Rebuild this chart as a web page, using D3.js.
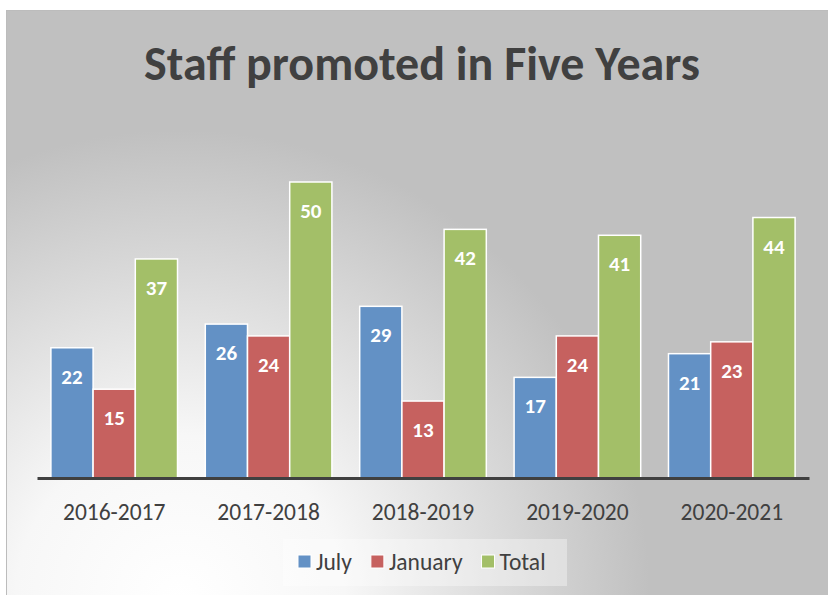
<!DOCTYPE html>
<html>
<head>
<meta charset="utf-8">
<script src="https://cdn.jsdelivr.net/npm/d3@7"></script>
<style>
  body { margin: 0; background: #ffffff; }
  svg { display: block; font-family: Carlito, Lato, "Open Sans", sans-serif; }
</style>
</head>
<body>
<svg id="chart" width="828" height="595"></svg>
<script>
const years = ["2016-2017", "2017-2018", "2018-2019", "2019-2020", "2020-2021"];
const seriesNames = ["July", "January", "Total"];
const july = [22, 26, 29, 17, 21];
const january = [15, 24, 13, 24, 23];
const total = [37, 50, 42, 41, 44];
const colors = ["#6391c5", "#c6615f", "#a3bf68"];

const svg = d3.select("#chart");
const width = 828, height = 595;

// Background with radial gradient (light bottom-left)
const defs = svg.append("defs");
const grad = defs.append("radialGradient")
  .attr("id", "bg")
  .attr("gradientUnits", "userSpaceOnUse")
  .attr("cx", 180).attr("cy", 600).attr("r", 470);
grad.append("stop").attr("offset", "0%").attr("stop-color", "#ffffff");
grad.append("stop").attr("offset", "35%").attr("stop-color", "#f7f7f7");
grad.append("stop").attr("offset", "100%").attr("stop-color", "#c0c0c0");

svg.append("rect")
  .attr("x", 6.5).attr("y", 10.5)
  .attr("width", width).attr("height", height)
  .attr("fill", "url(#bg)")
  .attr("stroke", "#bcbcbc")
  .attr("stroke-width", 1);

// Title
svg.append("text")
  .attr("x", 422).attr("y", 80)
  .attr("text-anchor", "middle")
  .attr("font-size", 48)
  .attr("font-weight", "bold")
  .attr("fill", "#404040")
  .text("Staff promoted in Five Years");

const data = years.map((y, i) => ({ year: y, values: [july[i], january[i], total[i]] }));

const x0 = d3.scaleBand().domain(years).range([37, 809]).paddingInner(0.18).paddingOuter(0.09);
const x1 = d3.scaleBand().domain(seriesNames).range([0, x0.bandwidth()]);
const y = d3.scaleLinear().domain([0, 50]).range([478, 182]);

const groups = svg.append("g")
  .selectAll("g")
  .data(data)
  .join("g")
  .attr("transform", d => `translate(${x0(d.year)},0)`);

groups.selectAll("rect")
  .data(d => d.values.map((v, i) => ({ name: seriesNames[i], value: v, i })))
  .join("rect")
  .attr("x", d => x1(d.name))
  .attr("y", d => y(d.value))
  .attr("width", x1.bandwidth())
  .attr("height", d => y(0) - y(d.value))
  .attr("fill", d => colors[d.i])
  .attr("stroke", "#ffffff")
  .attr("stroke-width", 1.5);

groups.selectAll("text")
  .data(d => d.values.map((v, i) => ({ name: seriesNames[i], value: v })))
  .join("text")
  .attr("x", d => x1(d.name) + x1.bandwidth() / 2)
  .attr("y", d => y(d.value) + 36)
  .attr("text-anchor", "middle")
  .attr("font-size", 21)
  .attr("font-weight", "bold")
  .attr("fill", "#ffffff")
  .text(d => d.value);

// X axis
const xAxis = svg.append("g")
  .attr("transform", `translate(0,${y(0)})`)
  .call(d3.axisBottom(x0).tickSize(0).tickPadding(25).tickSizeOuter(0));
xAxis.select(".domain").attr("stroke", "#404040").attr("stroke-width", 3);
xAxis.selectAll("text")
  .attr("font-size", 23.5)
  .attr("font-family", "Carlito, Lato, 'Open Sans', sans-serif")
  .attr("fill", "#404040");

// Legend
const legend = svg.append("g");
legend.append("rect")
  .attr("x", 283).attr("y", 539)
  .attr("width", 284).attr("height", 47)
  .attr("fill", "#ffffff").attr("fill-opacity", 0.35);

let lx = 298;
seriesNames.forEach((name, i) => {
  legend.append("rect")
    .attr("x", lx).attr("y", 555)
    .attr("width", 13).attr("height", 13)
    .attr("fill", colors[i])
    .attr("stroke", "#ffffff").attr("stroke-width", 1);
  const t = legend.append("text")
    .attr("x", lx + 18).attr("y", 570)
    .attr("font-size", 23.5)
    .attr("fill", "#404040")
    .text(name);
  lx += 18 + t.node().getComputedTextLength() + 19;
});
</script>
</body>
</html>
